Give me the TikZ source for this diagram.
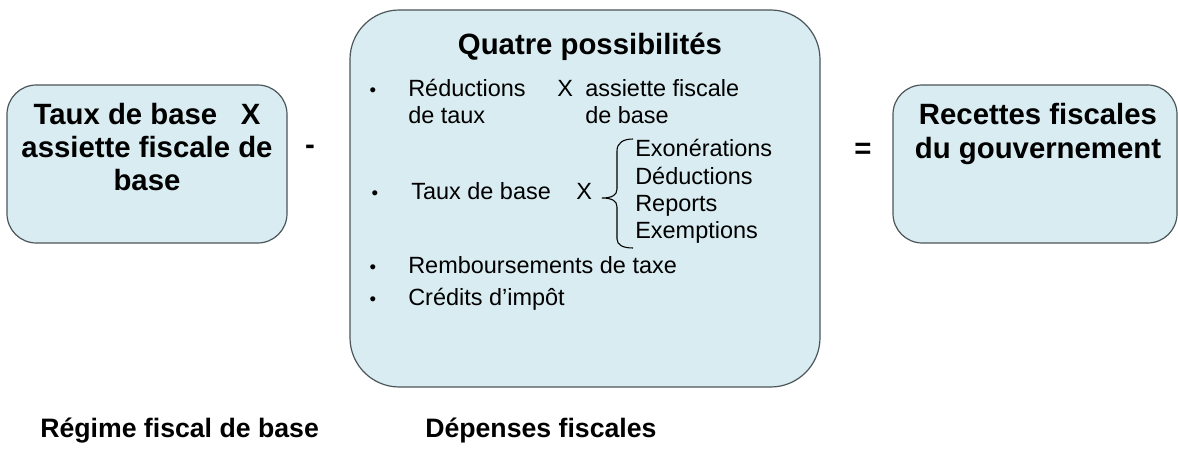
\documentclass[tikz,border=0pt]{standalone}
\usepackage{fontspec}
\setmainfont{Liberation Sans}
\usepackage{xcolor}
\usepackage{tikz}
\usetikzlibrary{positioning}
\definecolor{boxfill}{RGB}{217,236,241}
\definecolor{boxline}{RGB}{75,85,90}

\begin{document}
\begin{tikzpicture}[
    x=0.75pt, y=-0.75pt,
    box/.style={rectangle, draw=boxline, fill=boxfill, line width=0.9pt},
    head/.style={font=\fontsize{22}{25}\selectfont\bfseries, align=center, inner sep=0pt},
    caption/.style={font=\fontsize{20}{24}\selectfont\bfseries, anchor=base west, inner sep=0pt},
    item/.style={font=\fontsize{17.6}{20}\selectfont, anchor=base west, inner sep=0pt},
    dot/.style={font=\fontsize{14}{16}\selectfont, anchor=base, inner sep=0pt},
    sign/.style={font=\fontsize{22}{24}\selectfont\bfseries, inner sep=0pt}
]
\useasboundingbox (0,0) rectangle (1178,460);

% Base regime
\node[box, rounded corners=22pt, minimum width=210pt, minimum height=118.5pt] (base) at (147,164) {};
\node[head] (basetxt) at (147,147) {Taux de base\hspace{0.8em}X\\assiette fiscale de\\base};

% Minus sign
\node[sign] (minus) at (310,150) {-};

% Tax expenditures
\node[box, rounded corners=37pt, minimum width=352.5pt, minimum height=282.75pt] (exp) at (585,198.5) {};
\node[head, anchor=base] (title) at (590,55) {Quatre possibilités};

\node[dot] (b1) at (373,97) {\textbullet};
\node[item] (red1) at (408,97) {Réductions};
\node[item] (red2) at (408,123) {de taux};
\node[item] (redx) at (557,97) {X};
\node[item] (ass1) at (585,97) {assiette fiscale};
\node[item] (ass2) at (585,123) {de base};

\node[dot] (b2) at (375,199) {\textbullet};
\node[item] (taux) at (411,199) {Taux de base};
\node[item] (tauxx) at (576,199) {X};
\node[item] (exo) at (635,156) {Exonérations};
\node[item] (ded) at (635,184) {Déductions};
\node[item] (rep) at (635,211) {Reports};
\node[item] (exm) at (635,238) {Exemptions};
\draw[line width=0.8pt] (633,139) .. controls (623,139) and (617,143) .. (617,151)
    -- (617,189) .. controls (617,195) and (612,198) .. (602,198)
    .. controls (612,198) and (617,201) .. (617,207)
    -- (617,239) .. controls (617,245) and (623,248) .. (633,248);

\node[dot] (b3) at (373,273) {\textbullet};
\node[item] (remb) at (408,273) {Remboursements de taxe};
\node[dot] (b4) at (373,305) {\textbullet};
\node[item] (cred) at (408,305) {Crédits d’impôt};

% Equal sign
\node[sign] (equal) at (863,151) {=};

% Government revenue
\node[box, rounded corners=22pt, minimum width=213pt, minimum height=118.5pt] (rev) at (1035,164) {};
\node[head] (revtxt) at (1038,134) {Recettes fiscales\\du gouvernement};

% Bottom captions
\node[caption] (cap1) at (40,437) {Régime fiscal de base};
\node[caption] (cap2) at (425,437) {Dépenses fiscales};

\end{tikzpicture}
\end{document}
